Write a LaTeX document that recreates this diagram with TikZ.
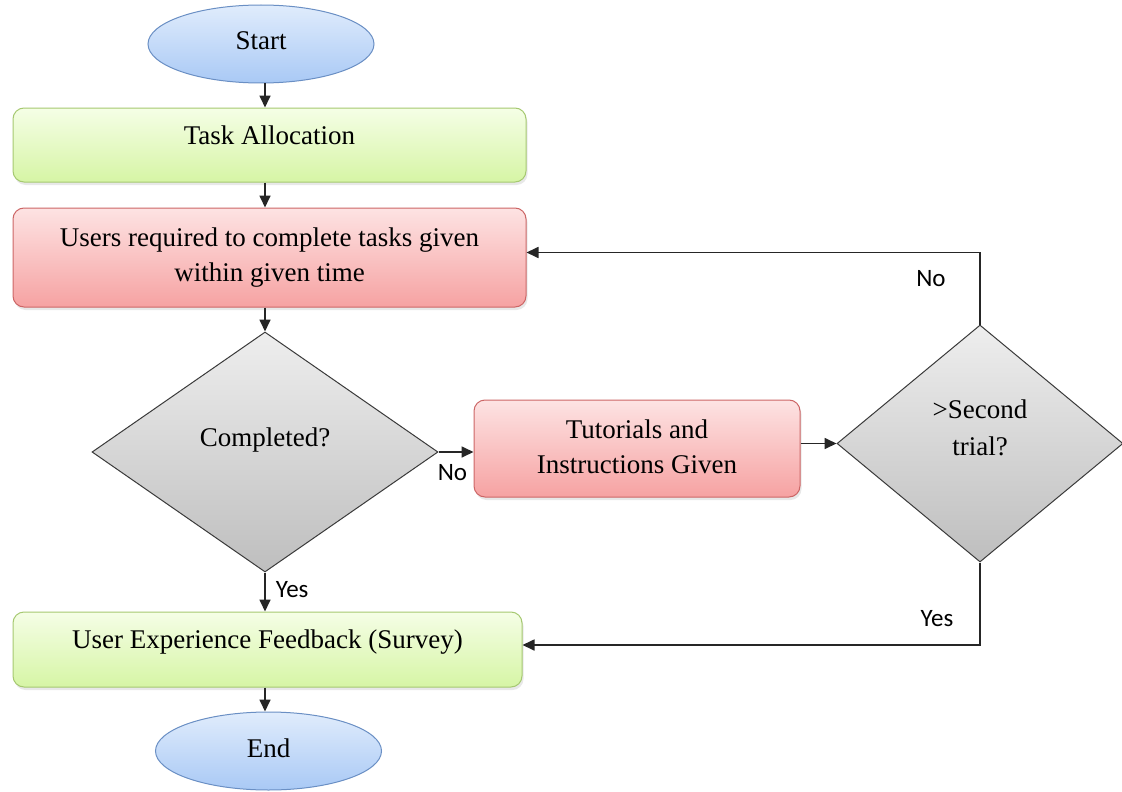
\documentclass[tikz,border=0pt]{standalone}
\usepackage{fontspec}
\setmainfont{Liberation Serif}
\newfontfamily\labelfont{Carlito}
\usetikzlibrary{shapes.geometric,arrows.meta,shadows}

\definecolor{termtop}{HTML}{E0ECFC}
\definecolor{termbot}{HTML}{A9C9F5}
\definecolor{termedge}{HTML}{6A8FC4}
\definecolor{greentop}{HTML}{F5FEE6}
\definecolor{greenbot}{HTML}{D6F5A5}
\definecolor{greenedge}{HTML}{A6C971}
\definecolor{redtop}{HTML}{FDE3E3}
\definecolor{redbot}{HTML}{F6A2A2}
\definecolor{rededge}{HTML}{CC6666}
\definecolor{graytop}{HTML}{EEEEEE}
\definecolor{graybot}{HTML}{BEBEBE}
\definecolor{grayedge}{HTML}{3A3A3A}
\definecolor{linecol}{HTML}{262626}

\tikzset{
  boxtext/.style={font=\fontsize{27}{35}\selectfont, align=center, text=black},
  terminal/.style={ellipse, boxtext, draw=termedge, line width=1pt,
    top color=termtop, bottom color=termbot,
    minimum width=226pt, minimum height=78pt, inner sep=0pt},
  roundbox/.style={rectangle, boxtext, rounded corners=11pt, line width=1pt,
    inner sep=0pt,
    drop shadow={shadow xshift=1.5pt, shadow yshift=-3pt, opacity=0.18}},
  greenbox/.style={roundbox, draw=greenedge, top color=greentop, bottom color=greenbot},
  redbox/.style={roundbox, draw=rededge, top color=redtop, bottom color=redbot},
  decision/.style={diamond, boxtext, draw=grayedge, line width=1pt,
    top color=graytop, bottom color=graybot, inner sep=0pt},
  flow/.style={draw=linecol, line width=1.7pt,
    -{Triangle[length=12pt,width=11pt]}},
  answer/.style={font=\labelfont\fontsize{25}{28}\selectfont, text=black, inner sep=0pt}
}

\begin{document}
\begin{tikzpicture}[x=1pt,y=-1pt]
  \useasboundingbox[fill=white] (0,0) rectangle (1122,792);

  % main column
  \coordinate (axis) at (265,0);
  \node[terminal] (start) at (261,44) {\raisebox{6pt}{Start}};
  \node[greenbox, minimum width=513pt, minimum height=74pt] (task) at (269.5,145)
    {\raisebox{20pt}{Task Allocation}};
  \node[redbox, minimum width=513pt, minimum height=99pt] (users) at (269.5,257.5)
    {Users required to complete tasks given\\within given time};
  \node[decision, minimum width=346pt, minimum height=240pt] (done) at (265,452)
    {\raisebox{30pt}{Completed?}};
  \node[greenbox, minimum width=509pt, minimum height=75pt] (survey) at (267.5,649.5)
    {\raisebox{20pt}{User Experience Feedback (Survey)}};
  \node[terminal] (end) at (268.5,751) {\raisebox{6pt}{End}};

  % retry branch
  \node[redbox, minimum width=326pt, minimum height=97pt] (tutor) at (637,448.5)
    {\raisebox{6pt}{\begin{tabular}{@{}c@{}}Tutorials and\\Instructions Given\end{tabular}}};
  \node[decision, minimum width=286pt, minimum height=237pt] (trial) at (980,443.5)
    {\raisebox{56pt}{\begin{tabular}{@{}c@{}}>Second\\[2pt]trial?\end{tabular}}};

  % connectors
  \draw[flow] (start.south -| axis) -- (task.north -| axis);
  \draw[flow] (task.south -| axis) -- (users.north -| axis);
  \draw[flow] (users.south -| axis) -- (done.north);
  \draw[flow] (done.south) -- (survey.north -| axis)
    node[answer, pos=0.45, anchor=west, xshift=10pt] {Yes};
  \draw[flow] (survey.south -| axis) -- (end.north -| axis);
  \draw[flow] (done.east) -- (tutor.west |- done.east)
    node[answer, pos=0.4, anchor=north, yshift=-12pt] {No};
  \draw[flow] (tutor.east |- trial.west) -- (trial.west);
  \draw[flow] (trial.north) |- ([yshift=5pt]users.east)
    node[answer, pos=0.5, xshift=-49pt, yshift=-26pt] {No};
  \draw[flow] (trial.south) |- ([yshift=4.5pt]survey.east)
    node[answer, pos=0.5, xshift=-43pt, yshift=26pt] {Yes};
\end{tikzpicture}
\end{document}
